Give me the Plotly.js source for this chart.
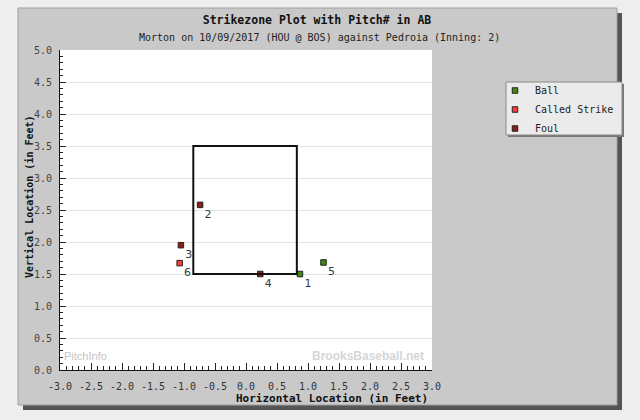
<!DOCTYPE html>
<html>
<head>
<meta charset="utf-8">
<script src="https://cdn.plot.ly/plotly-3.0.1.min.js"></script>
<style>
html,body{margin:0;padding:0;background:#eeeeee;}
#chart{width:640px;height:420px;}
</style>
</head>
<body>
<div id="chart"></div>
<script>
// ---- data ----
var pitchNum  = [1, 2, 3, 4, 5, 6];
var pitchX    = [0.87, -0.74, -1.05, 0.23, 1.25, -1.07];
var pitchY    = [1.50, 2.58, 1.95, 1.50, 1.68, 1.67];
var pitchType = ['Ball', 'Foul', 'Foul', 'Foul', 'Ball', 'Called Strike'];

var resultTypes  = ['Ball', 'Called Strike', 'Foul'];
var resultColors = ['#3f8a0c', '#ff3b3b', '#8c1c1c'];

var zoneX = [-0.85, 0.82];
var zoneY = [1.5, 3.5];

var xTickVals = [-3.0, -2.5, -2.0, -1.5, -1.0, -0.5, 0.0, 0.5, 1.0, 1.5, 2.0, 2.5, 3.0];
var yTickVals = [0.0, 0.5, 1.0, 1.5, 2.0, 2.5, 3.0, 3.5, 4.0, 4.5, 5.0];

var titleText    = 'Strikezone Plot with Pitch# in AB';
var subtitleText = 'Morton on 10/09/2017 (HOU @ BOS) against Pedroia (Inning: 2)';
var xTitleText   = 'Horizontal Location (in Feet)';
var yTitleText   = 'Vertical Location (in Feet)';

// ---- traces ----
var mono = 'DejaVu Sans Mono, monospace';
var traces = resultTypes.map(function (t, k) {
  var xs = [], ys = [], lbl = [];
  for (var i = 0; i < pitchNum.length; i++) {
    if (pitchType[i] === t) { xs.push(pitchX[i]); ys.push(pitchY[i]); lbl.push(String(pitchNum[i])); }
  }
  return {
    type: 'scatter', mode: 'markers+text', name: t,
    x: xs, y: ys, text: lbl, textposition: 'bottom right',
    textfont: {family: 'DejaVu Sans, sans-serif', size: 11, color: '#3a3a3a'},
    marker: {symbol: 'square', size: 5.5, color: resultColors[k], line: {color: '#222222', width: 1}},
    cliponaxis: false, hoverinfo: 'skip'
  };
});

// pixel helpers for paper coords (plot area 60..432 x, 50..370 y)
function px(p) { return (p - 60) / 372; }
function py(p) { return (370 - p) / 320; }

var layout = {
  width: 640, height: 420,
  margin: {l: 60, r: 208, t: 50, b: 50},
  paper_bgcolor: '#eeeeee',
  plot_bgcolor: 'rgba(0,0,0,0)',
  showlegend: true,
  title: {
    text: titleText, x: 317 / 640, xanchor: 'center', y: 1 - 20 / 420, yanchor: 'middle',
    font: {family: mono, size: 11.5, color: '#111111', weight: 'bold'}
  },
  xaxis: {
    range: [-3, 3], tickvals: xTickVals, ticktext: xTickVals.map(function (v) { return v.toFixed(1); }),
    ticks: 'inside', ticklen: 7, tickcolor: '#222', tickwidth: 1,
    minor: {dtick: 0.1, ticks: 'inside', ticklen: 4, tickcolor: '#222', showgrid: false},
    showgrid: false, zeroline: false, showline: true, linecolor: '#111', linewidth: 1,
    tickfont: {family: mono, size: 10, color: '#333333'}, ticklabelstandoff: 7,
    fixedrange: true
  },
  yaxis: {
    range: [0, 5], tickvals: yTickVals, ticktext: yTickVals.map(function (v) { return v.toFixed(1); }),
    ticks: 'inside', ticklen: 6, tickcolor: '#222', tickwidth: 1,
    minor: {dtick: 0.1, ticks: 'inside', ticklen: 3, tickcolor: '#222', showgrid: false},
    showgrid: true, gridcolor: '#e3e3e3', gridwidth: 1,
    zeroline: false, showline: true, linecolor: '#111', linewidth: 1,
    tickfont: {family: mono, size: 10, color: '#444444'}, ticklabelstandoff: 5,
    fixedrange: true
  },
  legend: {
    x: px(495), xanchor: 'left', y: py(76), yanchor: 'top',
    bgcolor: 'rgba(0,0,0,0)', borderwidth: 0,
    font: {family: mono, size: 10, color: '#222222'},
    tracegroupgap: 0, itemclick: false, itemdoubleclick: false
  },
  shapes: [
    // panel shadow
    {type: 'rect', xref: 'paper', yref: 'paper', layer: 'below',
     x0: px(23), x1: px(622), y0: py(410), y1: py(13), fillcolor: '#555555', line: {width: 0}},
    // panel
    {type: 'rect', xref: 'paper', yref: 'paper', layer: 'below',
     x0: px(18), x1: px(617), y0: py(405), y1: py(8), fillcolor: '#c9c9c9', line: {color: '#a0a0a0', width: 1}},
    // white plot area
    {type: 'rect', xref: 'paper', yref: 'paper', layer: 'below',
     x0: 0, x1: 1, y0: 0, y1: 1, fillcolor: '#ffffff', line: {width: 0}},
    // legend shadow
    {type: 'rect', xref: 'paper', yref: 'paper', layer: 'below',
     x0: px(508), x1: px(624), y0: py(137), y1: py(84), fillcolor: '#777777', line: {width: 0}},
    // legend box
    {type: 'rect', xref: 'paper', yref: 'paper', layer: 'below',
     x0: px(506), x1: px(622), y0: py(135), y1: py(82), fillcolor: '#ebebeb', line: {color: '#8a8a8a', width: 1}},
    // strike zone
    {type: 'rect', xref: 'x', yref: 'y', layer: 'above',
     x0: zoneX[0], x1: zoneX[1], y0: zoneY[0], y1: zoneY[1], line: {color: '#111111', width: 2}}
  ],
  annotations: [
    {text: subtitleText, xref: 'paper', yref: 'paper', x: px(319), y: py(38), xanchor: 'center', yanchor: 'middle',
     showarrow: false, font: {family: mono, size: 10, color: '#222222'}},
    {text: '<b>' + xTitleText + '</b>', xref: 'paper', yref: 'paper', x: px(430), y: py(398.5), xanchor: 'right', yanchor: 'middle',
     showarrow: false, font: {family: mono, size: 11, color: '#111111'}},
    {text: '<b>' + yTitleText + '</b>', xref: 'paper', yref: 'paper', x: px(29), y: py(197), xanchor: 'center', yanchor: 'middle',
     textangle: -90, showarrow: false, font: {family: mono, size: 10, color: '#111111'}},
    {text: 'PitchInfo', xref: 'paper', yref: 'paper', x: px(62), y: py(356), xanchor: 'left', yanchor: 'middle',
     showarrow: false, font: {family: 'Liberation Sans, sans-serif', size: 11, color: '#c4c4c4'}},
    {text: '<b>BrooksBaseball.net</b>', xref: 'paper', yref: 'paper', x: px(426), y: py(356), xanchor: 'right', yanchor: 'middle',
     showarrow: false, font: {family: 'Liberation Sans, sans-serif', size: 12, color: '#d6d6d6'}}
  ]
};

Plotly.newPlot('chart', traces, layout, {staticPlot: true, displayModeBar: false});
</script>
</body>
</html>
